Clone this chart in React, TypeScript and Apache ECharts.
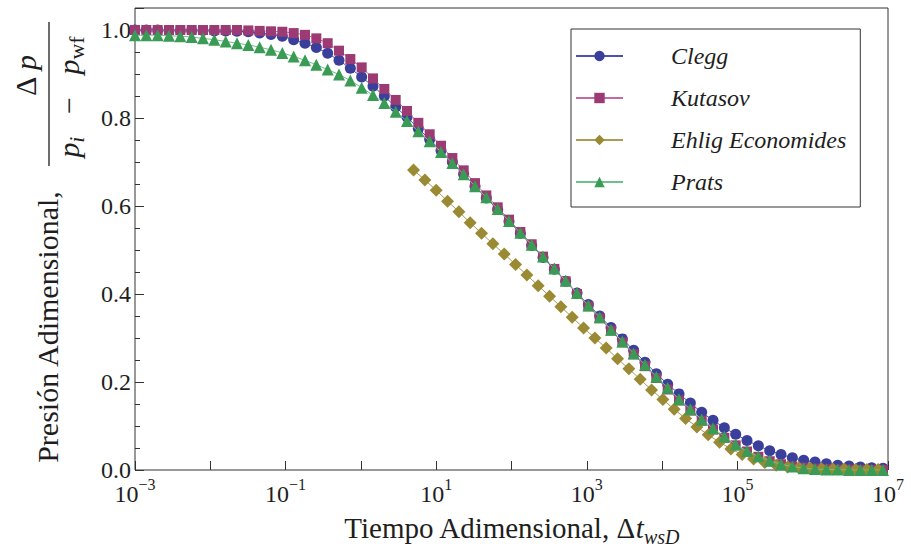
import React, { useEffect, useRef } from 'react';
import * as echarts from 'echarts';

// Dimensionless time grid (shared by Clegg, Kutasov, Prats)
const timeGrid = [
  0.001, 0.001414, 0.002, 0.002828, 0.004, 0.005657, 0.008, 0.011314, 0.016, 0.022627,
  0.032, 0.045255, 0.064, 0.09051, 0.128, 0.181019, 0.256, 0.362039, 0.512, 0.724077,
  1.024, 1.448155, 2.048, 2.896309, 4.096, 5.792619, 8.192, 11.585, 16.384, 23.17,
  32.768, 46.341, 65.536, 92.682, 131.072, 185.364, 262.144, 370.728, 524.288, 741.455,
  1048.576, 1482.91, 2097.152, 2965.821, 4194.304, 5931.642, 8388.608, 11863.28, 16777.22, 23726.57,
  33554.43, 47453.13, 67108.86, 94906.27, 134217.7, 189812.5, 268435.5, 379625.1, 536870.9, 759250.1,
  1073742, 1518500, 2147484, 3037000, 4294967, 6074001, 8589935,
];

const cleggValues = [
  1.0, 1.0, 1.0, 0.999, 0.999, 0.999, 0.999, 0.998, 0.998, 0.997,
  0.996, 0.993, 0.99, 0.986, 0.978, 0.97, 0.96, 0.947, 0.931, 0.913,
  0.893, 0.872, 0.85, 0.825, 0.802, 0.776, 0.751, 0.726, 0.7, 0.672,
  0.645, 0.618, 0.592, 0.565, 0.538, 0.51, 0.483, 0.456, 0.429, 0.402,
  0.376, 0.35, 0.324, 0.298, 0.272, 0.245, 0.219, 0.195, 0.173, 0.152,
  0.131, 0.113, 0.096, 0.081, 0.067, 0.055, 0.044, 0.035, 0.028, 0.022,
  0.018, 0.014, 0.011, 0.009, 0.007, 0.005, 0.004,
];

const kutasovValues = [
  1.0, 1.0, 1.0, 1.0, 1.0, 1.0, 1.0, 1.0, 1.0, 1.0,
  0.999, 0.998, 0.997, 0.996, 0.993, 0.989, 0.981, 0.97, 0.953, 0.934,
  0.915, 0.89, 0.866, 0.841, 0.816, 0.789, 0.763, 0.737, 0.709, 0.681,
  0.652, 0.624, 0.597, 0.569, 0.541, 0.513, 0.485, 0.457, 0.429, 0.4,
  0.372, 0.345, 0.317, 0.29, 0.263, 0.236, 0.209, 0.183, 0.158, 0.135,
  0.112, 0.092, 0.073, 0.056, 0.042, 0.03, 0.02, 0.013, 0.008, 0.005,
  0.003, 0.002, 0.001, 0.001, 0.0, 0.0, 0.0,
];

const pratsValues = [
  0.988, 0.988, 0.988, 0.987, 0.986, 0.984, 0.981, 0.978, 0.974, 0.97,
  0.966, 0.961, 0.955, 0.948, 0.94, 0.931, 0.921, 0.91, 0.899, 0.885,
  0.869, 0.852, 0.834, 0.814, 0.793, 0.77, 0.747, 0.723, 0.698, 0.672,
  0.645, 0.62, 0.593, 0.566, 0.539, 0.512, 0.485, 0.458, 0.43, 0.402,
  0.374, 0.347, 0.319, 0.292, 0.265, 0.239, 0.212, 0.187, 0.161, 0.138,
  0.115, 0.095, 0.076, 0.058, 0.043, 0.031, 0.021, 0.013, 0.008, 0.004,
  0.002, 0.001, 0.001, 0.0, 0.0, 0.0, 0.0,
];

// Ehlig-Economides uses its own time grid (starts at t = 5)
const ehligTimes = [
  5, 7.071, 10, 14.142, 20, 28.284, 40, 56.569, 80, 113.137,
  160, 226.274, 320, 452.548, 640, 905.097, 1280, 1810.19, 2560, 3620.39,
  5120, 7240.77, 10240, 14481.5, 20480, 28963.1, 40960, 57926.2, 81920, 115852,
  163840, 231705, 327680, 463410, 655360, 926819, 1310720, 1853638, 2621440, 3707276,
  5242880, 7414553,
];

const ehligValues = [
  0.682, 0.659, 0.636, 0.611, 0.587, 0.562, 0.538, 0.514, 0.491, 0.467,
  0.443, 0.419, 0.395, 0.371, 0.347, 0.323, 0.3, 0.277, 0.253, 0.23,
  0.206, 0.182, 0.16, 0.138, 0.117, 0.098, 0.08, 0.063, 0.048, 0.035,
  0.025, 0.017, 0.011, 0.007, 0.005, 0.004, 0.003, 0.002, 0.002, 0.001,
  0.001, 0.001,
];

const seriesNames = ['Clegg', 'Kutasov', 'Ehlig Economides', 'Prats'];
const yTickLabels = [0, 0.2, 0.4, 0.6, 0.8, 1.0];
const xLabelExponents = [-3, -1, 1, 3, 5, 7];

const SERIF = 'Liberation Serif';
const INK = '#1e1e1e';

export default function App() {
  const ref = useRef<HTMLDivElement>(null);

  useEffect(() => {
    if (!ref.current) return;
    const chart = echarts.init(ref.current, null, { renderer: 'svg' });
    const pair = (xs: number[], ys: number[]) => xs.map((x, i) => [x, ys[i]]);

    const lineSeries = (
      name: string,
      data: number[][],
      symbol: string,
      symbolSize: number,
      fill: string,
      stroke: string,
      z: number
    ) => ({
      name,
      type: 'line',
      data,
      symbol,
      symbolSize,
      showAllSymbol: true,
      silent: true,
      z,
      itemStyle: { color: fill },
      lineStyle: { color: stroke, width: 1 },
      emphasis: { disabled: true },
    });

    chart.setOption({
      animation: false,
      textStyle: { fontFamily: SERIF },
      grid: {
        left: 135,
        right: 23,
        top: 8,
        bottom: 82,
        show: true,
        borderColor: '#333',
        borderWidth: 1,
        backgroundColor: '#fff',
      },
      legend: {
        data: seriesNames,
        orient: 'vertical',
        left: 571,
        top: 29,
        padding: [15, 14, 13, 4],
        itemGap: 18,
        itemWidth: 47,
        itemHeight: 13,
        align: 'left',
        borderColor: '#333',
        borderWidth: 1,
        backgroundColor: '#fff',
        selectedMode: false,
        formatter: (name: string) => `{g|}{t|${name}}`,
        textStyle: {
          fontFamily: SERIF,
          fontSize: 24,
          color: INK,
          rich: {
            g: { width: 43, fontSize: 24, lineHeight: 28, fontFamily: SERIF, verticalAlign: 'middle' },
            t: {
              fontFamily: SERIF,
              fontStyle: 'italic',
              fontSize: 24,
              lineHeight: 28,
              color: INK,
              verticalAlign: 'middle',
            },
          },
        },
      },
      xAxis: {
        type: 'log',
        logBase: 10,
        min: 0.001,
        max: 1e7,
        interval: 1,
        axisLine: { show: false },
        splitLine: { show: false },
        minorTick: { show: false },
        axisTick: { inside: true, length: 9, lineStyle: { color: '#333', width: 1 } },
        axisLabel: {
          margin: 6,
          showMinLabel: true,
          showMaxLabel: true,
          fontFamily: SERIF,
          formatter: (v: number) => {
            const e = Math.round(Math.log10(v));
            if (!xLabelExponents.includes(e)) return '';
            const s = e < 0 ? '\u2212' + Math.abs(e) : String(e);
            return `{b|10}{s|${s}}`;
          },
          rich: {
            b: { fontFamily: SERIF, fontSize: 24, lineHeight: 30, color: INK, verticalAlign: 'bottom' },
            s: { fontFamily: SERIF, fontSize: 16, lineHeight: 16, color: INK, verticalAlign: 'top' },
          },
        },
        name: '{r|Tiempo Adimensional, \u0394}{it|t}{sub|wsD}',
        nameLocation: 'middle',
        nameGap: 43,
        nameTextStyle: {
          fontFamily: SERIF,
          rich: {
            r: { fontFamily: SERIF, fontSize: 29, lineHeight: 34, color: INK, verticalAlign: 'top' },
            it: { fontFamily: SERIF, fontSize: 29, fontStyle: 'italic', lineHeight: 34, color: INK, verticalAlign: 'top' },
            sub: { fontFamily: SERIF, fontSize: 20, fontStyle: 'italic', lineHeight: 18, color: INK, verticalAlign: 'bottom' },
          },
        },
      },
      yAxis: [
        {
          type: 'value',
          position: 'left',
          min: 0,
          max: 1.05,
          interval: 0.05,
          axisLine: { show: false },
          splitLine: { show: false },
          axisTick: { inside: true, length: 5, lineStyle: { color: '#333', width: 1 } },
          axisLabel: { show: false },
        },
        {
          type: 'value',
          position: 'left',
          min: 0,
          max: 1.05,
          interval: 0.2,
          axisLine: { show: false },
          splitLine: { show: false },
          axisTick: { inside: true, length: 9, lineStyle: { color: '#333', width: 1 } },
          axisLabel: {
            margin: 4,
            fontFamily: SERIF,
            fontSize: 24,
            color: INK,
            formatter: (v: number) =>
              yTickLabels.some((t) => Math.abs(t - v) < 1e-6) ? v.toFixed(1) : '',
          },
        },
      ],
      graphic: [
        {
          type: 'text',
          x: 47,
          y: 327,
          rotation: Math.PI / 2,
          silent: true,
          style: {
            text: 'Presi\u00f3n Adimensional,',
            fontFamily: SERIF,
            fontSize: 30,
            fill: INK,
            align: 'center',
            verticalAlign: 'middle',
          },
        },
        {
          type: 'line',
          silent: true,
          shape: { x1: 49, y1: 22, x2: 49, y2: 166 },
          style: { stroke: INK, lineWidth: 1.3 },
        },
        {
          type: 'text',
          x: 27,
          y: 76,
          rotation: Math.PI / 2,
          silent: true,
          style: {
            text: '{r|\u0394 }{i|p}',
            align: 'center',
            verticalAlign: 'middle',
            rich: {
              r: { fontFamily: SERIF, fontSize: 30, lineHeight: 34, fill: INK, verticalAlign: 'top' },
              i: { fontFamily: SERIF, fontSize: 30, fontStyle: 'italic', lineHeight: 34, fill: INK, verticalAlign: 'top' },
            },
          },
        },
        {
          type: 'text',
          x: 70,
          y: 97,
          rotation: Math.PI / 2,
          silent: true,
          style: {
            text: '{i|p}{sb|i}{r|   \u2212   }{i|p}{sbr|wf}',
            align: 'center',
            verticalAlign: 'middle',
            rich: {
              r: { fontFamily: SERIF, fontSize: 30, lineHeight: 34, fill: INK, verticalAlign: 'top' },
              i: { fontFamily: SERIF, fontSize: 30, fontStyle: 'italic', lineHeight: 34, fill: INK, verticalAlign: 'top' },
              sb: { fontFamily: SERIF, fontSize: 22, fontStyle: 'italic', lineHeight: 18, fill: INK, verticalAlign: 'bottom' },
              sbr: { fontFamily: SERIF, fontSize: 22, lineHeight: 18, fill: INK, verticalAlign: 'bottom' },
            },
          },
        },
      ],
      series: [
        lineSeries('Clegg', pair(timeGrid, cleggValues), 'circle', 11, '#3b3f9c', '#4b52b4', 2),
        lineSeries('Kutasov', pair(timeGrid, kutasovValues), 'rect', 10, '#9c3a74', '#c46aa2', 3),
        lineSeries('Ehlig Economides', pair(ehligTimes, ehligValues), 'diamond', 13, '#9a8a33', '#a99b52', 4),
        lineSeries('Prats', pair(timeGrid, pratsValues), 'triangle', 12, '#3a9b55', '#6cc28a', 5),
      ],
    });

    return () => chart.dispose();
  }, []);

  return (
    <div
      ref={ref}
      style={{ position: 'fixed', left: 0, top: 0, width: 911, height: 552, background: '#fff' }}
    />
  );
}
